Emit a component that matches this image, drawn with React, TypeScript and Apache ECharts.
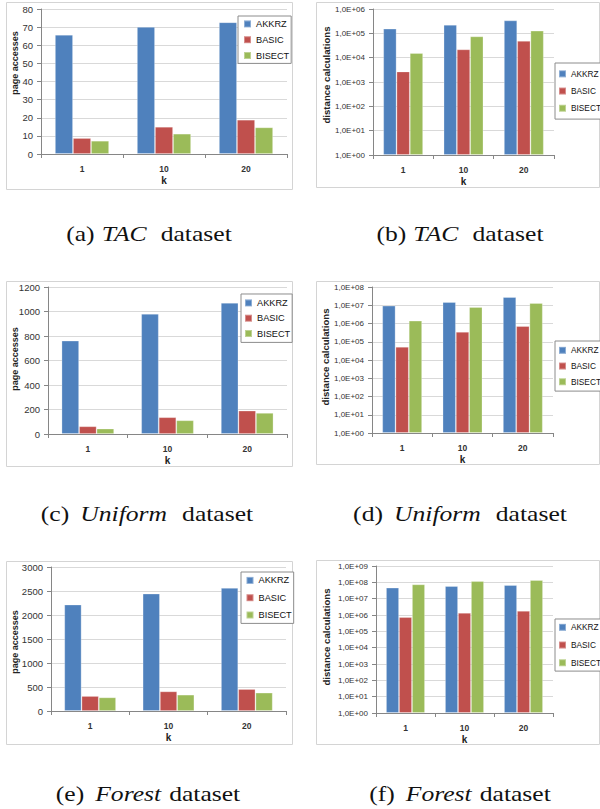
import React, { useEffect, useRef } from 'react';
import * as echarts from 'echarts';

// ---------- data ----------
const categories = ['1', '10', '20'];
const seriesNames = ['AKKRZ', 'BASIC', 'BISECT'];

const tacPageAKKRZ = [65.8, 70.1, 72.7];
const tacPageBASIC = [8.8, 15.0, 18.9];
const tacPageBISECT = [7.3, 11.2, 14.7];

const tacDistAKKRZ = [1.55e5, 2.25e5, 3.4e5];
const tacDistBASIC = [2.7e3, 2.2e4, 4.9e4];
const tacDistBISECT = [1.55e4, 7.5e4, 1.28e5];

const uniPageAKKRZ = [762, 981, 1071];
const uniPageBASIC = [63, 137, 191];
const uniPageBISECT = [44, 112, 172];

const uniDistAKKRZ = [9.5e6, 1.5e7, 2.8e7];
const uniDistBASIC = [5.3e4, 3.5e5, 7.2e5];
const uniDistBISECT = [1.42e6, 8.0e6, 1.33e7];

const forPageAKKRZ = [2217, 2446, 2564];
const forPageBASIC = [312, 409, 457];
const forPageBISECT = [284, 340, 381];

const forDistAKKRZ = [4.7e7, 5.9e7, 6.8e7];
const forDistBASIC = [7.4e5, 1.36e6, 1.8e6];
const forDistBISECT = [7.5e7, 1.2e8, 1.38e8];

const captionTags = ['(a)', '(b)', '(c)', '(d)', '(e)', '(f)'];
const datasetNames = ['TAC', 'TAC', 'Uniform', 'Uniform', 'Forest', 'Forest'];
const yTitles = ['page accesses', 'distance calculations'];

const panelData = [
  [tacPageAKKRZ, tacPageBASIC, tacPageBISECT],
  [tacDistAKKRZ, tacDistBASIC, tacDistBISECT],
  [uniPageAKKRZ, uniPageBASIC, uniPageBISECT],
  [uniDistAKKRZ, uniDistBASIC, uniDistBISECT],
  [forPageAKKRZ, forPageBASIC, forPageBISECT],
  [forDistAKKRZ, forDistBASIC, forDistBISECT],
];

// value-axis settings (linear: max / interval ; log: max exponent)
const linearMax = [80, 1200, 3000];
const linearInterval = [10, 200, 500];
const logMaxExp = [6, 8, 9];

// ---------- layout / style ----------
const COLORS = ['#4F81BD', '#C0504D', '#9BBB59'];
const SANS = "'Liberation Sans', Arial, sans-serif";
const SERIF = "'Liberation Serif', 'Times New Roman', serif";
const CAP_SCALE = 1.22;
const CAP_FS = 21;

const layouts = [
  { grid: { left: 41, top: 9, width: 246, height: 145 }, legend: { left: 238, top: 16, spacing: 16, boxH: 48, pl: 5 }, box: [6, 2, 286, 187], yTitle: [15, 63], caption: [149, 234], capPad: [7, 14] },
  { grid: { left: 373, top: 9, width: 181, height: 146 }, legend: { left: 555, top: 63, spacing: 16.5, boxH: 54, pl: 3 }, box: [316, 2, 283, 185], yTitle: [326, 75], caption: [460, 234], capPad: [7, 14] },
  { grid: { left: 48, top: 287, width: 239, height: 147 }, legend: { left: 241, top: 294, spacing: 15.5, boxH: 49, pl: 3 }, box: [6, 281, 286, 185], yTitle: [15, 359], caption: [147, 514], capPad: [11, 15] },
  { grid: { left: 372, top: 287, width: 181, height: 146 }, legend: { left: 555, top: 341, spacing: 15, boxH: 48, pl: 3 }, box: [316, 281, 283, 183], yTitle: [325, 357], caption: [460, 514], capPad: [11, 15] },
  { grid: { left: 51, top: 567, width: 235, height: 144 }, legend: { left: 241, top: 572, spacing: 17.5, boxH: 52, pl: 4.5 }, box: [6, 561, 286, 183], yTitle: [15, 642], caption: [148, 794], capPad: [11, 8] },
  { grid: { left: 376, top: 566, width: 177, height: 147 }, legend: { left: 555, top: 619, spacing: 17, boxH: 50, pl: 3 }, box: [316, 560, 283, 184], yTitle: [326, 637], caption: [460, 794], capPad: [11, 8] },
];

const logLabel = (v: number) => {
  const e = Math.round(Math.log10(v));
  return '1,0E+' + String(e).padStart(2, '0');
};

function buildOption() {
  const grids: any[] = [];
  const xAxes: any[] = [];
  const yAxes: any[] = [];
  const legends: any[] = [];
  const series: any[] = [];
  const graphics: any[] = [];

  layouts.forEach((L, p) => {
    const isLog = p % 2 === 1;
    const row = Math.floor(p / 2);
    grids.push({ ...L.grid, containLabel: false });
    xAxes.push({
      type: 'category',
      gridIndex: p,
      data: categories,
      axisLine: { show: true, lineStyle: { color: '#868686', width: 1 } },
      axisTick: { show: true, length: 4, alignWithLabel: false, lineStyle: { color: '#868686' } },
      axisLabel: { fontSize: 8.5, fontWeight: 'bold', color: '#333', margin: 10, fontFamily: SANS },
      splitLine: { show: false },
      name: 'k',
      nameLocation: 'middle',
      nameGap: 21,
      nameTextStyle: { fontSize: 10, fontWeight: 'bold', color: '#222', fontFamily: SANS },
    });
    if (isLog) {
      yAxes.push({
        type: 'log',
        gridIndex: p,
        logBase: 10,
        min: 1,
        max: Math.pow(10, logMaxExp[row]),
        axisLine: { show: true, lineStyle: { color: '#868686' } },
        axisTick: { show: true, length: 4, lineStyle: { color: '#868686' } },
        axisLabel: { fontSize: 8, color: '#333', margin: 8, formatter: logLabel, fontFamily: SANS },
        splitLine: { show: true, lineStyle: { color: '#D9D9D9', width: 1 } },
        minorTick: { show: false },
      });
    } else {
      yAxes.push({
        type: 'value',
        gridIndex: p,
        min: 0,
        max: linearMax[row],
        interval: linearInterval[row],
        axisLine: { show: true, lineStyle: { color: '#868686' } },
        axisTick: { show: true, length: 4, lineStyle: { color: '#868686' } },
        axisLabel: { fontSize: 9.5, color: '#333', margin: 8, fontFamily: SANS, formatter: (v: number) => String(v) },
        splitLine: { show: true, lineStyle: { color: '#D9D9D9', width: 1 } },
      });
    }
    const legFs = isLog ? 8.3 : 9.2;
    const gap = L.legend.spacing - legFs;
    const pt = (L.legend.boxH - legFs - 2 * L.legend.spacing) / 2;
    legends.push({
      show: true,
      orient: 'vertical',
      left: L.legend.left,
      top: L.legend.top,
      itemGap: gap,
      itemWidth: 7,
      itemHeight: 7,
      icon: 'rect',
      padding: [pt, 2, pt, L.legend.pl],
      borderColor: '#8C8C8C',
      borderWidth: 1,
      backgroundColor: '#ffffff',
      data: seriesNames,
      selectedMode: false,
      textStyle: { fontSize: legFs, color: '#111', fontFamily: SANS },
      z: 10,
    });
    seriesNames.forEach((name, s) => {
      series.push({
        type: 'bar',
        name,
        xAxisIndex: p,
        yAxisIndex: p,
        data: panelData[p][s],
        barGap: '0%',
        barCategoryGap: '34%',
        itemStyle: { color: COLORS[s], borderColor: 'rgba(255,255,255,0.35)', borderWidth: 0.8 },
      });
    });

    // panel frame
    graphics.push({
      type: 'rect',
      z: -1,
      shape: { x: L.box[0] + 0.5, y: L.box[1] + 0.5, width: L.box[2], height: L.box[3] },
      style: { fill: 'none', stroke: '#D4D4D4', lineWidth: 1 },
      silent: true,
    });
    // y axis title
    graphics.push({
      type: 'text',
      x: L.yTitle[0],
      y: L.yTitle[1],
      rotation: Math.PI / 2,
      style: {
        text: yTitles[p % 2],
        fontSize: isLog ? 9.6 : 9,
        fontWeight: 'bold',
        fontFamily: SANS,
        fill: '#222',
        align: 'center',
        verticalAlign: 'middle',
        textAlign: 'center',
        textVerticalAlign: 'middle',
      },
      silent: true,
    });
    // caption
    graphics.push({
      type: 'text',
      x: L.caption[0],
      y: L.caption[1],
      scaleX: CAP_SCALE,
      style: {
        text: `{n|${captionTags[p]}}{i|${datasetNames[p]}}{n|dataset}`,
        rich: {
          n: { fontFamily: SERIF, fontSize: CAP_FS, fill: '#111', fontStyle: 'normal' },
          i: {
            fontFamily: SERIF,
            fontSize: CAP_FS,
            fill: '#111',
            fontStyle: 'italic',
            padding: [0, L.capPad[1] / CAP_SCALE, 0, L.capPad[0] / CAP_SCALE],
          },
        },
        fontFamily: SERIF,
        fontSize: CAP_FS,
        align: 'center',
        verticalAlign: 'middle',
        textAlign: 'center',
        textVerticalAlign: 'middle',
      },
      silent: true,
    });
  });

  return {
    animation: false,
    backgroundColor: '#ffffff',
    grid: grids,
    xAxis: xAxes,
    yAxis: yAxes,
    legend: legends,
    series,
    graphic: graphics,
  };
}

export default function App() {
  const ref = useRef<HTMLDivElement>(null);
  useEffect(() => {
    if (!ref.current) return;
    const chart = echarts.init(ref.current, undefined, { renderer: 'svg' });
    chart.setOption(buildOption() as any);
    return () => {
      chart.dispose();
    };
  }, []);
  return (
    <div
      ref={ref}
      style={{ position: 'absolute', left: 0, top: 0, width: 600, height: 809, background: '#fff' }}
    />
  );
}
